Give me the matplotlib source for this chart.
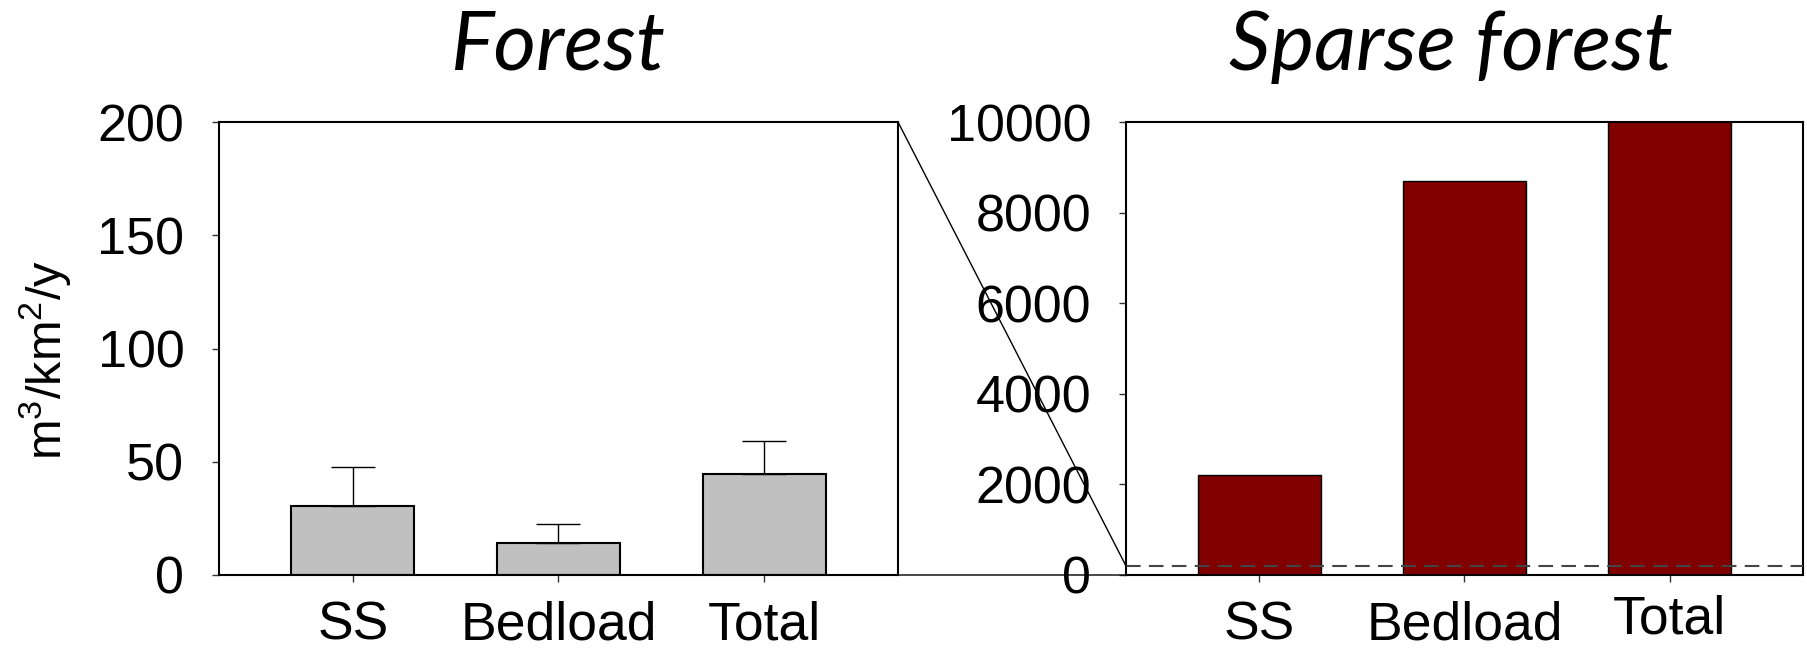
import matplotlib
matplotlib.use("Agg")
import matplotlib.pyplot as plt
from matplotlib.patches import ConnectionPatch
import matplotlib.transforms as mtransforms

categories = ["SS", "Bedload", "Total"]
forest_values = [30.3, 14.1, 44.4]
forest_err = [17.6, 8.4, 14.6]
sparse_values = [2200, 8700, 10900]
forest_yticks = [0, 50, 100, 150, 200]
sparse_yticks = [0, 2000, 4000, 6000, 8000, 10000]
zoom_level = 200

plt.rcParams["font.family"] = ["Liberation Sans", "DejaVu Sans"]
plt.rcParams["mathtext.fontset"] = "custom"
plt.rcParams["mathtext.rm"] = "Liberation Sans"
plt.rcParams["mathtext.default"] = "regular"

DPI = 100
fig = plt.figure(figsize=(18.08, 6.49), dpi=DPI)
ax1 = fig.add_axes([219/1808, 74/649, 679/1808, 453/649])
ax2 = fig.add_axes([1126/1808, 74/649, 677/1808, 453/649])

x = list(range(len(categories)))
ax1.bar(x, forest_values, width=0.6, color="#C0C0C0", edgecolor="black",
        linewidth=1.5, zorder=2)
ax1.errorbar(x, forest_values, yerr=[[0]*3, forest_err], fmt="none",
             ecolor="black", elinewidth=1.0, capsize=16, capthick=1.0, zorder=3)
ax1.set_ylim(0, 200)
ax1.set_yticks(forest_yticks)
ax1.set_ylabel(r"m$^3$/km$^2$/y", fontsize=35)
ax1.yaxis.set_label_coords(-0.215, 0.475)

ax2.bar(x, sparse_values, width=0.6, color="#800000", edgecolor="black",
        linewidth=1.0, zorder=2)
ax2.axhline(zoom_level, color="#444444", linestyle=(0, (7, 4)), linewidth=1.5, zorder=3)
ax2.set_ylim(0, 10000)
ax2.set_yticks(sparse_yticks)

for ax, title in [(ax1, "Forest"), (ax2, "Sparse forest")]:
    ax.set_xlim(-0.65, 2.65)
    ax.set_xticks(x)
    ax.set_xticklabels(categories)
    ax.tick_params(axis="both", direction="out", length=5, width=1.0,
                   color="#333333")
    ax.tick_params(axis="y", pad=20, labelsize=37.5)
    ax.tick_params(axis="x", pad=13, labelsize=38.5)
    for sp in ax.spines.values():
        sp.set_linewidth(1.5)
        sp.set_color("black")

ax1.set_title("Forest", fontsize=59, fontstyle="italic",
              family=["Lato", "DejaVu Sans"], pad=37.5)
ax2.set_title("Sparse forest", fontsize=59, fontstyle="italic",
              family=["Lato", "DejaVu Sans"], pad=37.5, x=0.48)

# raise "Total" label in right panel slightly
lbl = ax2.get_xticklabels()[2]
lbl.set_transform(lbl.get_transform() + mtransforms.ScaledTranslation(0, 6/DPI, fig.dpi_scale_trans))

# zoom connector lines
con1 = ConnectionPatch(xyA=(1, 1), coordsA=ax1.transAxes,
                       xyB=(-0.65, zoom_level), coordsB=ax2.transData,
                       color="black", linewidth=1.0)
con2 = ConnectionPatch(xyA=(1, 0), coordsA=ax1.transAxes,
                       xyB=(-0.65, 0), coordsB=ax2.transData,
                       color="black", linewidth=1.0)
fig.add_artist(con1)
fig.add_artist(con2)

fig.savefig("out.png", dpi=DPI)
